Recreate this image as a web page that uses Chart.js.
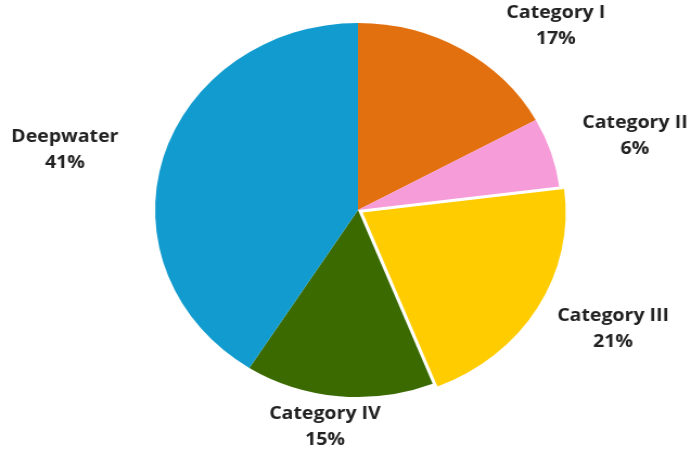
<!DOCTYPE html>
<html>
<head>
<meta charset="utf-8">
<script src="https://cdn.jsdelivr.net/npm/chart.js@4"></script>
<style>
  html, body { margin: 0; padding: 0; background: #fff; overflow: hidden; }
  /* the source picture is stretched sideways, so stretch the canvas the same way */
  #wrap { width: 637px; height: 452px; transform: scaleX(1.0848); transform-origin: 0 0; }
</style>
</head>
<body>
<div id="wrap"><canvas id="chart" width="637" height="452"></canvas></div>
<script>
// Data
const categories = ["Category I", "Category II", "Category III", "Category IV", "Deepwater"];
const shares = [17, 6, 21, 15, 41];
const sliceColors = ["#E3700F", "#F69CD8", "#FFCC00", "#3B6A00", "#129BCE"];
const sliceOffsets = [0, 0, 20, 0, 0];

// where each label sits: angle from 12 o'clock (deg) and distance in pie radii
const labelPlacement = [
  { angle: 44.8, dist: 1.384 },
  { angle: 73.9, dist: 1.421 },
  { angle: 116.8, dist: 1.409 },
  { angle: 188.0, dist: 1.169 },
  { angle: 282.5, dist: 1.480 }
];

const outsideLabels = {
  id: "outsideLabels",
  afterDatasetsDraw(chart) {
    const ctx = chart.ctx;
    const arcs = chart.getDatasetMeta(0).data;
    ctx.save();
    ctx.font = "bold 18px 'Open Sans'";
    ctx.fillStyle = "#222";
    ctx.textAlign = "center";
    ctx.textBaseline = "middle";
    arcs.forEach((arc, i) => {
      const p = labelPlacement[i];
      const a = p.angle * Math.PI / 180;
      const r = arc.outerRadius * p.dist;
      const x = arc.x + Math.sin(a) * r;
      const y = arc.y - Math.cos(a) * r;
      ctx.fillText(categories[i], x, y - 13);
      ctx.fillText(shares[i] + "%", x, y + 13);
    });
    ctx.restore();
  }
};

new Chart(document.getElementById("chart"), {
  type: "pie",
  data: {
    labels: categories,
    datasets: [{
      data: shares,
      backgroundColor: sliceColors,
      borderWidth: 0,
      offset: sliceOffsets
    }]
  },
  options: {
    responsive: false,
    animation: false,
    layout: { padding: { top: 13, bottom: 45, left: 133, right: 110 } },
    plugins: {
      legend: { display: false },
      tooltip: { enabled: false }
    }
  },
  plugins: [outsideLabels]
});
</script>
</body>
</html>
